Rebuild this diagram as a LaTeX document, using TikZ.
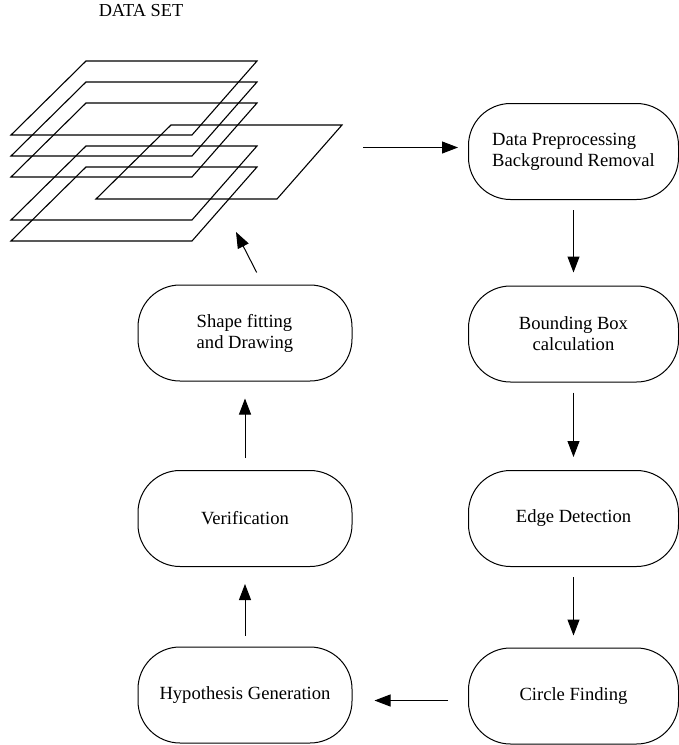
\documentclass[tikz,border=0pt]{standalone}
\usepackage{fontspec}
\setmainfont{Liberation Serif}
\usetikzlibrary{arrows.meta}

\tikzset{
  box/.style={draw,line width=1pt,rounded corners=42pt,minimum height=96pt,
    font=\fontsize{18.6}{21}\selectfont},
  arrow/.style={line width=1pt,-{Triangle[length=16pt,width=12pt]}}
}

\begin{document}
\begin{tikzpicture}[x=1pt,y=-1pt]
            \useasboundingbox (0,0) rectangle (679,745);

            \node (title) at (141,11) [font=\fontsize{18.3}{21}\selectfont] {DATA SET};
            \foreach \dx/\dy in {0/61,0/82,0/103,85/125,0/146,0/167}
              \draw[line width=1.1pt,shift={(\dx,\dy)}] (11,74) -- (86,0) -- (257,0) -- (192,74) -- cycle;
            \coordinate (stack) at (363,147.5);
            \coordinate (stackfoot) at (236,232);

            \node (prep) at (573.5,151.5) [box,minimum width=210pt,align=left] {Data Preprocessing\\Background Removal};
            \node (bbox) at (573.5,334) [box,minimum width=210pt,align=center] {Bounding Box\\calculation};
            \node (edge) at (573.5,518.5) [box,minimum width=210pt] {Edge Detection};
            \node (circ) at (573.5,696) [box,minimum width=210pt] {Circle Finding};
            \node (hyp) at (245,695) [box,minimum width=214pt] {Hypothesis Generation};
            \node (ver) at (245,518.5) [box,minimum width=214pt] {Verification};
            \node (fit) at (245,333) [box,minimum width=214pt,align=left] {Shape fitting\\and Drawing};

            \draw[arrow,shorten >=10pt] (stack) -- (stack -| prep.west);
            \draw[arrow,shorten <=10pt,shorten >=13pt] (prep) -- (bbox);
            \draw[arrow,shorten <=10pt,shorten >=13pt] (bbox) -- (edge);
            \draw[arrow,shorten <=10pt,shorten >=12pt] (edge) -- (circ);
            \draw[arrow,shorten <=20pt,shorten >=22pt] (circ.west |- 0,700.5) -- (hyp.east |- 0,700.5);
            \draw[arrow,shorten <=11pt,shorten >=17pt] (hyp) -- (ver);
            \draw[arrow,shorten <=12pt,shorten >=17pt] (ver) -- (fit);
            \draw[arrow] ([xshift=11.7pt,yshift=12pt]fit.north) -- (stackfoot);
\end{tikzpicture}
\end{document}
